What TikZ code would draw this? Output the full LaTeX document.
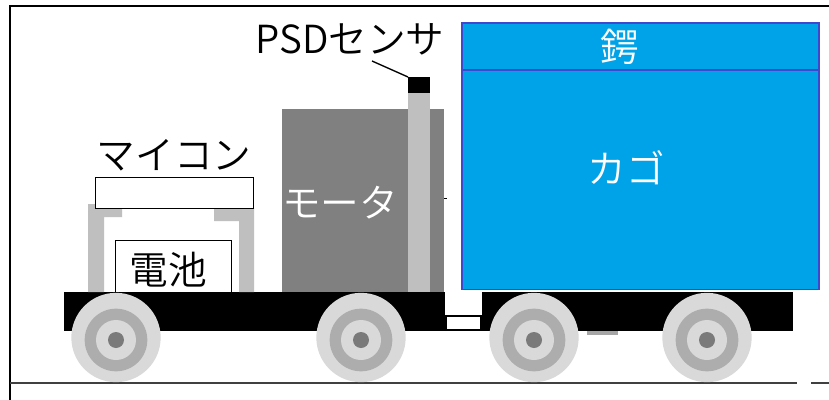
\documentclass[tikz,border=0pt]{standalone}
\usepackage{fontspec}
\setmainfont{Noto Sans CJK JP}[UprightFont={* DemiLight}]
\definecolor{basket}{HTML}{00A2E8}
\definecolor{basketline}{HTML}{3F48CC}
\tikzset{
  x=0.75pt,y=-0.75pt,
  lbl/.style={inner sep=0pt,font=\fontsize{29}{31}\selectfont},
  block/.style={fill=black},
  lightbar/.style={fill=black!25},
  whitebox/.style={draw=black,line width=1.1pt,fill=white},
  cage/.style={draw=basketline,line width=1.2pt,fill=basket},
}
\newcommand{\wheel}[2]{%
  \fill[black!15] (#1,#2-2.5) circle[radius=33.5pt];
  \fill[black!32] (#1,#2) circle[radius=23.5pt];
  \fill[black!15] (#1,#2) circle[radius=15pt];
  \fill[black!52] (#1,#2) circle[radius=6pt];
}
\begin{document}
\begin{tikzpicture}
\useasboundingbox (0,0) rectangle (829,400);
\fill[white] (0,0) rectangle (829,400);
% frame and ground
\coordinate (tl) at (10,6); \coordinate (tr) at (829,6);
\coordinate (bl) at (10,400); \coordinate (gl) at (10,383); \coordinate (gr) at (829,383);
\draw[line width=1.5pt] (tr) -- (tl) -- (bl);
\draw[line width=1.8pt,black!75] (gl) -- (gr);
\fill[white] (797,380) rectangle (811,388);
% chassis
\fill[block] (64,292) rectangle (445,331);
\fill[block] (482,292) rectangle (793,331);
\node[draw=black,line width=1.5pt,fill=white,minimum width=26.5pt,minimum height=10.5pt,inner sep=0pt] (joint) at (463.5,323) {};
\fill[black!35] (587,331) rectangle (618,335);
% motor
\node[fill=black!50,minimum width=121.5pt,minimum height=137pt,inner sep=0pt,anchor=north west] (motor) at (282,109) {};
\node[lbl,text=white] (motorlbl) at (340,203) {モータ};
% sensor pole
\node[lightbar,minimum width=16.5pt,minimum height=149pt,inner sep=0pt,anchor=north west] (pole) at (408,93) {};
\node[block,minimum width=16.5pt,minimum height=12pt,inner sep=0pt,anchor=north west] (sensor) at (408,77) {};
\node[lbl] (psd) at (350,39) {PSDセンサ};
\coordinate (psdfoot) at (372,61);
\draw[line width=1pt] (psdfoot) -- (sensor.north west);
\draw[line width=0.7pt] (444,198) -- (447,198);
% brackets
\fill[lightbar] (88,292) -- (88,204) -- (122,204) -- (122,217) -- (104,217) -- (104,292) -- cycle;
\fill[lightbar] (254,292) -- (254,208) -- (214,208) -- (214,221) -- (239,221) -- (239,292) -- cycle;
% boxes
\node[whitebox,minimum width=118.5pt,minimum height=23pt,inner sep=0pt,anchor=north west] (mcu) at (95,177) {};
\node[lbl] (mculbl) at (174,155) {マイコン};
\node[whitebox,minimum width=87pt,minimum height=39pt,inner sep=0pt,anchor=north west] (batt) at (115,240) {};
\node[lbl] (battlbl) at (168,270) {電池};
% basket
\node[cage,minimum width=268pt,minimum height=200pt,inner sep=0pt,anchor=north west] (cage) at (461,22) {};
\coordinate (dl) at (461,70); \coordinate (dr) at (818,70);
\draw[basketline,line width=1.2pt] (dl) -- (dr);
\node[lbl,text=white] (tsuba) at (620,47) {鍔};
\node[lbl,text=white] (cagelbl) at (626,168) {カゴ};
% wheels
\wheel{116}{340}
\wheel{361}{340}
\wheel{534}{340}
\wheel{707}{340}
\end{tikzpicture}
\end{document}
